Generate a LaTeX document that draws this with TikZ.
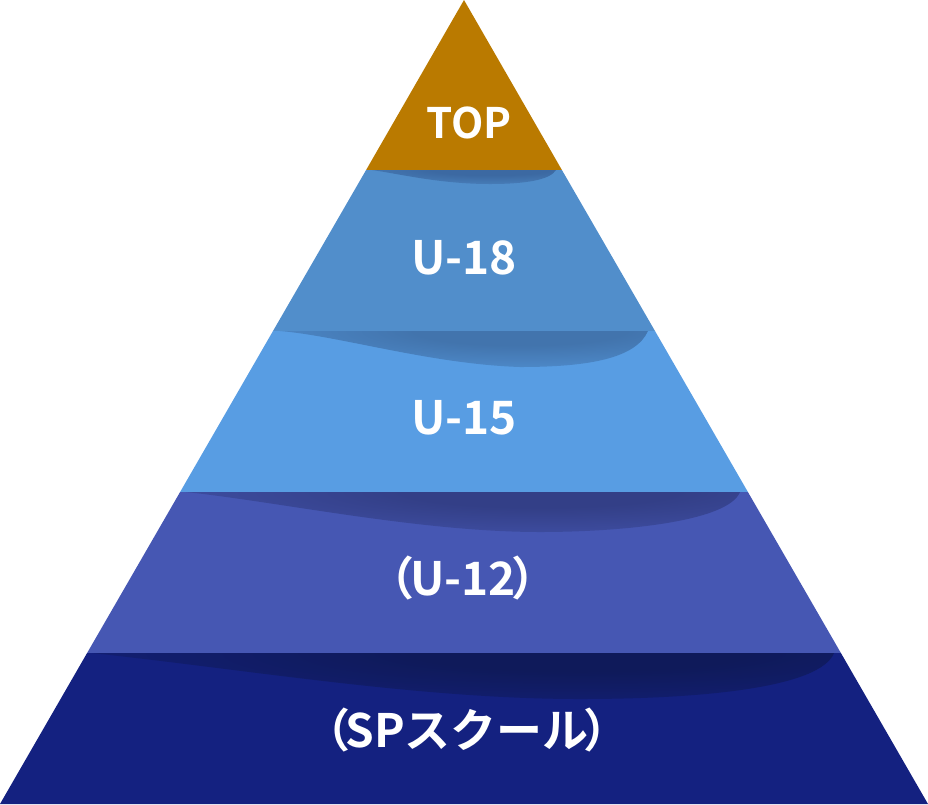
\documentclass[tikz,border=0pt]{standalone}
\usepackage{fontspec}
\newfontfamily\jpfont{Noto Sans CJK JP}[BoldFont={* Bold}]
\definecolor{ctop}{HTML}{BA7A00}
\definecolor{cuei}{HTML}{518ECB}
\definecolor{cugo}{HTML}{589DE3}
\definecolor{cuju}{HTML}{4657B3}
\definecolor{csp}{HTML}{142180}
\definecolor{shuei}{HTML}{3C69A2}
\definecolor{shugo}{HTML}{4274AD}
\definecolor{shuju}{HTML}{333F87}
\definecolor{shsp}{HTML}{0F1A5A}
\pgfdeclareradialshading{shduei}{\pgfpoint{0bp}{0bp}}{color(0bp)=(shuei); color(6bp)=(shuei); color(25bp)=(cuei); color(50bp)=(cuei)}
\pgfdeclareradialshading{shdugo}{\pgfpoint{0bp}{0bp}}{color(0bp)=(shugo); color(6bp)=(shugo); color(25bp)=(cugo); color(50bp)=(cugo)}
\pgfdeclareradialshading{shduju}{\pgfpoint{0bp}{0bp}}{color(0bp)=(shuju); color(6bp)=(shuju); color(25bp)=(cuju); color(50bp)=(cuju)}
\pgfdeclareradialshading{shdsp}{\pgfpoint{0bp}{0bp}}{color(0bp)=(shsp); color(6bp)=(shsp); color(25bp)=(csp); color(50bp)=(csp)}
\tikzset{
  lbl/.style={text=white,font=\jpfont\bfseries\fontsize{46}{46}\selectfont,anchor=base,inner sep=0pt},
}
\begin{document}
\begin{tikzpicture}[x=1pt,y=-1pt]
\useasboundingbox (0,0) rectangle (928,804);
% layers
\fill[ctop] (464,0) -- (366.1,170) -- (561.9,170) -- cycle;
\fill[cuei] (366.1,170) -- (273.0,331) -- (655.0,331) -- (561.9,170) -- cycle;
\fill[cugo] (273.0,331) -- (180.1,492) -- (747.9,492) -- (655.0,331) -- cycle;
\fill[cuju] (180.1,492) -- (87.1,653) -- (840.9,653) -- (747.9,492) -- cycle;
\fill[csp] (87.1,653) -- (0,804) -- (928,804) -- (840.9,653) -- cycle;
% shadows
\begin{scope}
\clip (372,170) -- (556,170) .. controls (550,180) and (525,184) .. (490,184) .. controls (440,184) and (400,174) .. (372,170) -- cycle;
\shade[shading=shduei] (490,170) ellipse [x radius=240,y radius=22];
\end{scope}
\begin{scope}
\clip (280,331) -- (648,331) .. controls (636,358) and (590,367) .. (520,367) .. controls (430,364) and (340,336) .. (280,331) -- cycle;
\shade[shading=shdugo] (520,331) ellipse [x radius=440,y radius=60];
\end{scope}
\begin{scope}
\clip (186,492) -- (740,492) .. controls (728,522) and (620,532) .. (540,532) .. controls (420,532) and (280,502) .. (186,492) -- cycle;
\shade[shading=shduju] (540,492) ellipse [x radius=560,y radius=64];
\end{scope}
\begin{scope}
\clip (92,653) -- (834,653) .. controls (820,688) and (700,699) .. (580,699) .. controls (420,699) and (250,670) .. (92,653) -- cycle;
\shade[shading=shdsp] (580,653) ellipse [x radius=700,y radius=76];
\end{scope}
% labels
\node[lbl,font=\jpfont\bfseries\fontsize{42}{42}\selectfont] (ttop) at (469,138) {TOP};
\node[lbl] (tu18) at (464,274) {U-18};
\node[lbl] (tu15) at (464,434) {U-15};
\node[lbl] (tu12) at (463,595) {（\kern-4pt U-12\kern-4pt）};
\node[lbl] (tsp) at (467,747) {（\kern-5pt SPスクール\kern-5pt）};
\end{tikzpicture}
\end{document}
